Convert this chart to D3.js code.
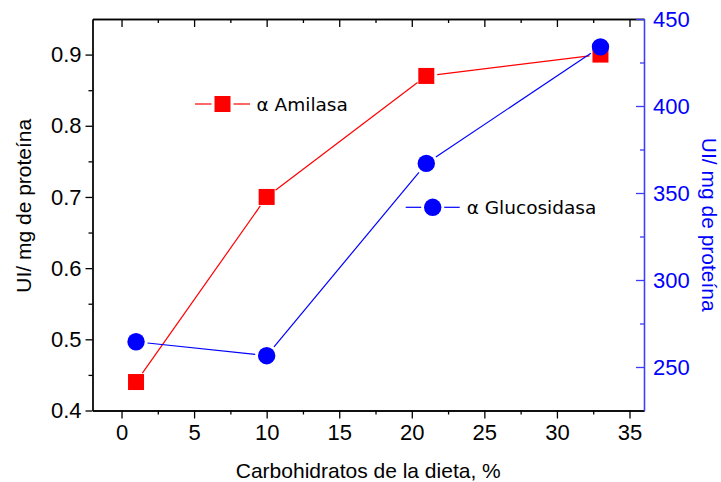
<!DOCTYPE html>
<html>
<head>
<meta charset="utf-8">
<script src="https://cdn.jsdelivr.net/npm/d3@7"></script>
<style>
  html, body { margin: 0; padding: 0; background: #fff; }
  svg { display: block; }
</style>
</head>
<body>
<div id="chart"></div>
<script>
// data
const carbs = [1, 10, 21, 33];
const amilasa = [0.44, 0.70, 0.87, 0.90];
const glucosidasa = [264.5, 256.5, 367, 434];
const xTicks = [0, 5, 10, 15, 20, 25, 30, 35];
const xMinor = [2.5, 7.5, 12.5, 17.5, 22.5, 27.5, 32.5];
const yLTicks = [0.4, 0.5, 0.6, 0.7, 0.8, 0.9];
const yLMinor = [0.45, 0.55, 0.65, 0.75, 0.85];
const yRTicks = [250, 300, 350, 400, 450];
const yRMinor = [275, 325, 375, 425];

const width = 721, height = 482;
const plotL = 92.5, plotR = 644, plotT = 19, plotB = 410.5;
const red = '#ff0000', blue = '#0000ff', axisBlue = '#3c3cff';
const font = '"Liberation Sans", Arial, sans-serif';

const svg = d3.select('#chart').append('svg')
  .attr('width', width).attr('height', height);

const x = d3.scaleLinear().domain([-2, 36]).range([plotL, plotR]);
const yL = d3.scaleLinear().domain([0.4, 0.95]).range([plotB, plotT]);
const yR = d3.scaleLinear().domain([225, 450]).range([plotB, plotT]);

function styleAxis(g, color) {
  g.selectAll('path').attr('stroke', color).attr('stroke-width', 1.3);
  g.selectAll('line').attr('stroke', color).attr('stroke-width', 1.3);
  g.selectAll('text').attr('fill', color).style('font-family', font).style('font-size', '22px');
}

// bottom axis
svg.append('g').attr('transform', `translate(0,${plotB})`)
  .call(d3.axisBottom(x).tickValues(xTicks).tickSize(8).tickSizeOuter(0).tickPadding(6))
  .call(styleAxis, '#000');
svg.append('g').attr('transform', `translate(0,${plotB})`)
  .call(d3.axisBottom(x).tickValues(xMinor).tickSize(4).tickSizeOuter(0).tickFormat(''))
  .call(styleAxis, '#000');

// top axis (ticks inward)
svg.append('g').attr('transform', `translate(0,${plotT})`)
  .call(d3.axisTop(x).tickValues(xTicks).tickSize(-8).tickSizeOuter(0).tickFormat(''))
  .call(styleAxis, '#000');
svg.append('g').attr('transform', `translate(0,${plotT})`)
  .call(d3.axisTop(x).tickValues(xMinor).tickSize(-4).tickSizeOuter(0).tickFormat(''))
  .call(styleAxis, '#000');

// left axis
svg.append('g').attr('transform', `translate(${plotL},0)`)
  .call(d3.axisLeft(yL).tickValues(yLTicks).tickSize(7).tickSizeOuter(0).tickPadding(4).tickFormat(d3.format('.1f')))
  .call(styleAxis, '#000');
svg.append('g').attr('transform', `translate(${plotL},0)`)
  .call(d3.axisLeft(yL).tickValues(yLMinor).tickSize(4).tickSizeOuter(0).tickFormat(''))
  .call(styleAxis, '#000');

// right axis (blue, ticks inward)
svg.append('g').attr('transform', `translate(${plotR},0)`)
  .call(d3.axisRight(yR).tickValues(yRTicks).tickSize(-8).tickSizeOuter(0).tickPadding(9))
  .call(styleAxis, axisBlue)
  .selectAll('text').attr('fill', blue);
svg.append('g').attr('transform', `translate(${plotR},0)`)
  .call(d3.axisRight(yR).tickValues(yRMinor).tickSize(-4).tickSizeOuter(0).tickFormat(''))
  .call(styleAxis, axisBlue);

// axis titles
svg.append('text')
  .attr('transform', `translate(${(plotL + plotR) / 2},478)`)
  .attr('text-anchor', 'middle')
  .style('font-family', font).style('font-size', '21px')
  .text('Carbohidratos de la dieta, %');

svg.append('text')
  .attr('transform', `translate(31,${(plotT + plotB) / 2 - 9}) rotate(-90)`)
  .attr('text-anchor', 'middle')
  .style('font-family', font).style('font-size', '21px')
  .text('UI/ mg de proteína');

svg.append('text')
  .attr('transform', `translate(702,${(plotT + plotB) / 2 + 10}) rotate(90)`)
  .attr('text-anchor', 'middle')
  .attr('fill', blue)
  .style('font-family', font).style('font-size', '21px')
  .text('UI/ mg de proteína');

// lines with small gaps around the markers
function gappedSegments(pts, gap) {
  const segs = [];
  for (let i = 0; i < pts.length - 1; i++) {
    const [x1, y1] = pts[i], [x2, y2] = pts[i + 1];
    const len = Math.hypot(x2 - x1, y2 - y1);
    const ux = (x2 - x1) / len, uy = (y2 - y1) / len;
    segs.push([x1 + ux * gap, y1 + uy * gap, x2 - ux * gap, y2 - uy * gap]);
  }
  return segs;
}

const redPts = carbs.map((c, i) => [x(c), yL(amilasa[i])]);
const bluePts = carbs.map((c, i) => [x(c), yR(glucosidasa[i])]);

svg.append('g').selectAll('line')
  .data(gappedSegments(redPts, 11))
  .enter().append('line')
  .attr('x1', d => d[0]).attr('y1', d => d[1])
  .attr('x2', d => d[2]).attr('y2', d => d[3])
  .attr('stroke', red).attr('stroke-width', 1.2);

svg.append('g').selectAll('rect')
  .data(redPts)
  .enter().append('rect')
  .attr('x', d => d[0] - 8).attr('y', d => d[1] - 8)
  .attr('width', 16).attr('height', 16)
  .attr('fill', red);

svg.append('g').selectAll('line')
  .data(gappedSegments(bluePts, 11.5))
  .enter().append('line')
  .attr('x1', d => d[0]).attr('y1', d => d[1])
  .attr('x2', d => d[2]).attr('y2', d => d[3])
  .attr('stroke', blue).attr('stroke-width', 1.2);

svg.append('g').selectAll('circle')
  .data(bluePts)
  .enter().append('circle')
  .attr('cx', d => d[0]).attr('cy', d => d[1])
  .attr('r', 8.7)
  .attr('fill', blue);

// legends
const legendFont = '"DejaVu Sans", Verdana, sans-serif';
const lgA = svg.append('g').attr('transform', 'translate(222.5,104)');
lgA.append('line').attr('x1', -27.5).attr('x2', -11).attr('stroke', red).attr('stroke-width', 1.2);
lgA.append('line').attr('x1', 11).attr('x2', 27.5).attr('stroke', red).attr('stroke-width', 1.2);
lgA.append('rect').attr('x', -8).attr('y', -8).attr('width', 16).attr('height', 16).attr('fill', red);
lgA.append('text').attr('x', 34).attr('y', 6.5)
  .style('font-family', legendFont).style('font-size', '18.5px')
  .text('α Amilasa');

const lgG = svg.append('g').attr('transform', 'translate(432.7,207.3)');
lgG.append('line').attr('x1', -27).attr('x2', -11.5).attr('stroke', blue).attr('stroke-width', 1.2);
lgG.append('line').attr('x1', 11.5).attr('x2', 27).attr('stroke', blue).attr('stroke-width', 1.2);
lgG.append('circle').attr('r', 8.7).attr('fill', blue);
lgG.append('text').attr('x', 34).attr('y', 6.5)
  .style('font-family', legendFont).style('font-size', '18.5px')
  .text('α Glucosidasa');
</script>
</body>
</html>
